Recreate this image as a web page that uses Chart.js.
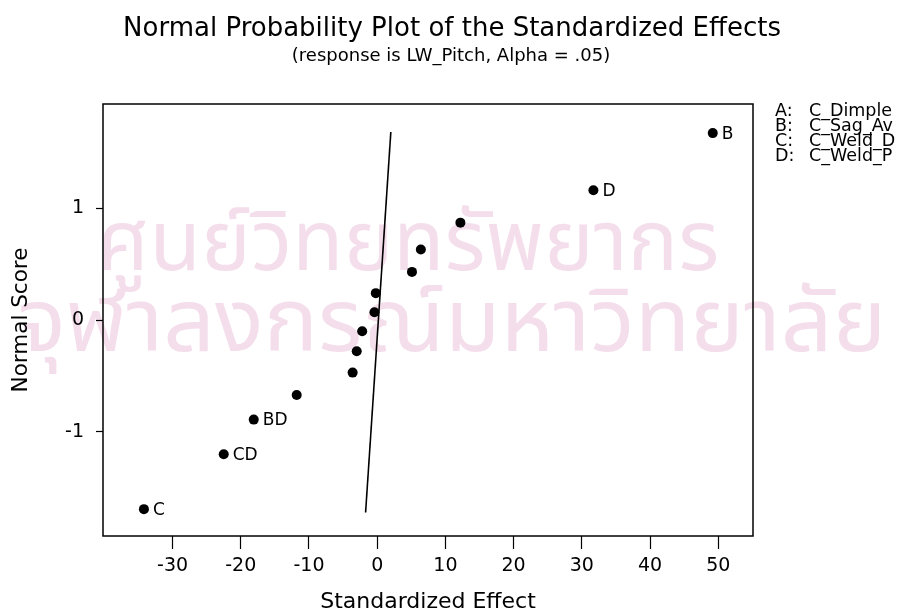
<!DOCTYPE html>
<html>
<head>
<meta charset="utf-8">
<script src="https://cdn.jsdelivr.net/npm/chart.js@4.4.1/dist/chart.umd.min.js"></script>
<style>
  html, body { margin: 0; padding: 0; background: #fff; }
  #wrap { width: 911px; height: 615px; position: relative; }
</style>
</head>
<body>
<div id="wrap"><canvas id="npp"></canvas></div>
<script>
// Standardized effects and their normal scores
const effectLabels = ['C', 'CD', 'BD', '', '', '', '', '', '', '', '', '', 'D', 'B'];
const effects = [-34.2, -22.5, -18.1, -11.8, -3.6, -3.0, -2.2, -0.4, -0.2, 5.1, 6.4, 12.2, 31.7, 49.2];
const normalScores = [-1.69, -1.20, -0.89, -0.67, -0.47, -0.28, -0.10, 0.07, 0.24, 0.43, 0.63, 0.87, 1.16, 1.67];

// reference line (end points)
const refLineX = [-1.7, 2.0];
const refLineY = [-1.72, 1.68];

const xTicks = [-30, -20, -10, 0, 10, 20, 30, 40, 50];
const yTicks = [-1, 0, 1];

const factorKeys = ['A:', 'B:', 'C:', 'D:'];
const factorNames = ['C_Dimple', 'C_Sag_Av', 'C_Weld_D', 'C_Weld_P'];

const titleText = 'Normal Probability Plot of the Standardized Effects';
const subtitleText = '(response is LW_Pitch, Alpha = .05)';
const watermark = ['ศูนย์วิทยทรัพยากร', 'จุฬาลงกรณ์มหาวิทยาลัย'];

const FONT = '"DejaVu Sans", Tahoma, Verdana, sans-serif';

// background, watermark, frame, point labels, titles and factor key
const decorations = {
    id: 'decorations',
    beforeDraw(chart) {
        const ctx = chart.ctx;
        ctx.save();
        ctx.fillStyle = '#fff';
        ctx.fillRect(0, 0, chart.width, chart.height);
        ctx.fillStyle = '#f4deeb';
        ctx.textAlign = 'center';
        ctx.textBaseline = 'alphabetic';
        ctx.font = '84px "Noto Sans Thai", "Noto Sans", "DejaVu Sans", sans-serif';
        ctx.fillText(watermark[0], 408, 270);
        ctx.translate(452, 351);
        ctx.scale(1.03, 1);
        ctx.font = '88px "Noto Sans Thai", "Noto Sans", "DejaVu Sans", sans-serif';
        ctx.fillText(watermark[1], 0, 0);
        ctx.restore();
    },
    afterDatasetsDraw(chart) {
        const ctx = chart.ctx;
        const area = chart.chartArea;
        ctx.save();
        ctx.strokeStyle = '#000';
        ctx.lineWidth = 1.5;
        ctx.strokeRect(area.left, area.top, area.right - area.left, area.bottom - area.top);

        const meta = chart.getDatasetMeta(0);
        ctx.fillStyle = '#000';
        ctx.font = '17px ' + FONT;
        ctx.textAlign = 'left';
        ctx.textBaseline = 'middle';
        meta.data.forEach((pt, i) => {
            if (effectLabels[i]) ctx.fillText(effectLabels[i], pt.x + 9, pt.y + 1);
        });
        ctx.restore();
    },
    afterDraw(chart) {
        const ctx = chart.ctx;
        ctx.save();
        ctx.fillStyle = '#000';
        ctx.textAlign = 'center';
        ctx.textBaseline = 'alphabetic';
        ctx.font = '26px ' + FONT;
        ctx.fillText(titleText, 452, 36);
        ctx.font = '18px ' + FONT;
        ctx.fillText(subtitleText, 451, 61);

        ctx.textAlign = 'left';
        ctx.font = '17.5px ' + FONT;
        factorKeys.forEach((k, i) => {
            const y = 116 + i * 15;
            ctx.fillText(k, 775, y);
            ctx.fillText(factorNames[i], 809, y);
        });
        ctx.restore();
    }
};

function initializeChart() {
    const ctx = document.getElementById('npp').getContext('2d');
    return new Chart(ctx, {
        type: 'scatter',
        data: {
            datasets: [
                {
                    label: 'Effects',
                    data: effects.map((x, i) => ({ x: x, y: normalScores[i] })),
                    backgroundColor: '#000',
                    borderColor: '#000',
                    borderWidth: 0,
                    pointRadius: 5,
                    pointStyle: 'circle'
                },
                {
                    label: 'Reference',
                    data: refLineX.map((x, i) => ({ x: x, y: refLineY[i] })),
                    showLine: true,
                    borderColor: '#000',
                    borderWidth: 1.6,
                    pointRadius: 0,
                    fill: false
                }
            ]
        },
        options: {
            responsive: true,
            maintainAspectRatio: false,
            animation: false,
            layout: {
                padding: { top: 104, right: 158, bottom: 0, left: 0 }
            },
            plugins: {
                legend: { display: false },
                tooltip: { enabled: false },
                title: { display: false }
            },
            scales: {
                x: {
                    type: 'linear',
                    min: -40.2,
                    max: 55.1,
                    afterBuildTicks: (scale) => { scale.ticks = xTicks.map(v => ({ value: v })); },
                    afterFit: (scale) => { scale.height = 79; },
                    border: { display: false },
                    grid: {
                        drawOnChartArea: false,
                        drawTicks: true,
                        tickLength: 13,
                        tickColor: '#000',
                        tickWidth: 1.2
                    },
                    ticks: {
                        color: '#000',
                        padding: 6,
                        maxRotation: 0,
                        font: { family: FONT, size: 19 }
                    },
                    title: {
                        display: true,
                        text: 'Standardized Effect',
                        color: '#000',
                        padding: { top: 0, bottom: 0 },
                        font: { family: FONT, size: 22 }
                    }
                },
                y: {
                    type: 'linear',
                    min: -1.93,
                    max: 1.93,
                    afterBuildTicks: (scale) => { scale.ticks = yTicks.map(v => ({ value: v })); },
                    afterFit: (scale) => { scale.width = 103; },
                    border: { display: false },
                    grid: {
                        drawOnChartArea: false,
                        drawTicks: true,
                        tickLength: 7,
                        tickColor: '#000',
                        tickWidth: 1.2
                    },
                    ticks: {
                        color: '#000',
                        padding: 12,
                        font: { family: FONT, size: 19 }
                    },
                    title: {
                        display: true,
                        text: 'Normal Score',
                        color: '#000',
                        padding: { top: 9, bottom: 0 },
                        font: { family: FONT, size: 21.5 }
                    }
                }
            }
        },
        plugins: [decorations]
    });
}

initializeChart();
</script>
</body>
</html>
